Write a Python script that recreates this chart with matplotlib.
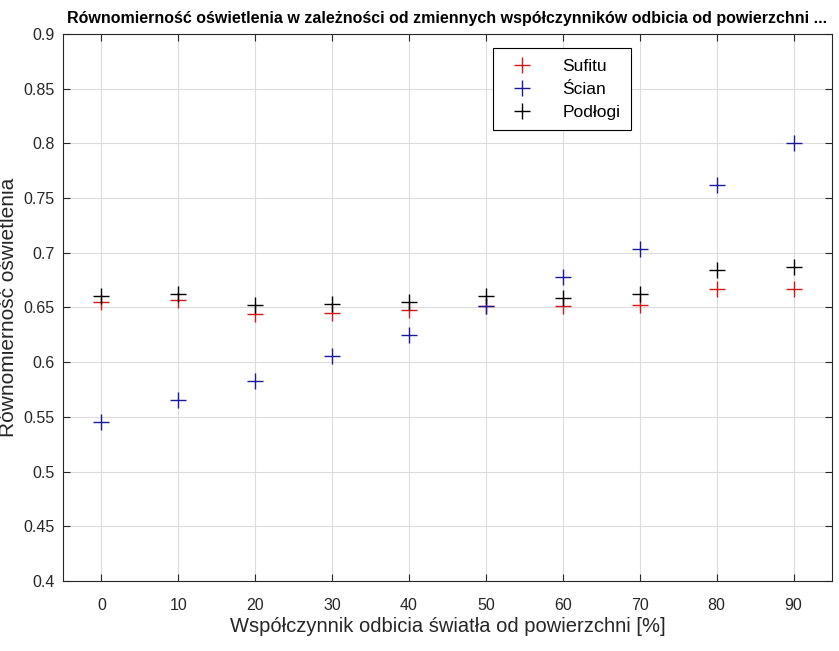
import matplotlib
matplotlib.use("Agg")
import matplotlib.pyplot as plt

plt.rcParams['font.family'] = ['Liberation Sans', 'DejaVu Sans']

# wspolczynnik odbicia [%]
x = [0, 10, 20, 30, 40, 50, 60, 70, 80, 90]
sufitu = [0.655, 0.657, 0.644, 0.645, 0.648, 0.651, 0.651, 0.652, 0.667, 0.667]
scian = [0.545, 0.565, 0.583, 0.606, 0.625, 0.651, 0.678, 0.703, 0.762, 0.800]
podlogi = [0.660, 0.662, 0.652, 0.653, 0.655, 0.660, 0.659, 0.662, 0.684, 0.687]

fig = plt.figure(figsize=(8.39, 6.51), dpi=100)
ax = fig.add_axes([0.075, 0.1075, 0.9167, 0.8405])

ax.plot(x, sufitu, '+', color='#d01818', markersize=11, mew=1.0, label='Sufitu')
ax.plot(x, scian, '+', color='#1a1a9a', markersize=11, mew=1.0, label='Ścian')
ax.plot(x, podlogi, '+', color='black', markersize=11, mew=1.0, label='Podłogi')

ax.set_xlim(-5, 95)
ax.set_ylim(0.4, 0.9)
ax.set_xticks(x)
ax.set_yticks([0.4, 0.45, 0.5, 0.55, 0.6, 0.65, 0.7, 0.75, 0.8, 0.85, 0.9])
ax.set_yticklabels(['0.4', '0.45', '0.5', '0.55', '0.6', '0.65', '0.7', '0.75', '0.8', '0.85', '0.9'])
ax.grid(True, color='#dcdcdc', linewidth=0.8)
ax.set_axisbelow(True)
ax.tick_params(direction='in', top=True, right=True, labelsize=11.5, colors='#262626', length=5, pad=6)
ax.tick_params(axis='x', pad=12)
for s in ax.spines.values():
    s.set_color('#262626')

ax.set_xlabel('Współczynnik odbicia światła od powierzchni [%]', fontsize=14.5, color='#262626', labelpad=3)
ax.set_ylabel('Równomierność oświetlenia', fontsize=15, color='#262626')
ax.yaxis.set_label_coords(-0.058, 0.5)
ax.set_title('Równomierność oświetlenia w zależności od zmiennych współczynników odbicia od powierzchni ...',
             fontsize=11.5, fontweight='bold', pad=8)

leg = ax.legend(loc='upper left', bbox_to_anchor=(0.559, 0.974), borderaxespad=0, fontsize=12.5,
                fancybox=False, edgecolor='black', framealpha=1, handletextpad=1.2, borderpad=0.6,
                labelspacing=0.45, handlelength=2.2)
leg.get_frame().set_linewidth(0.8)

fig.savefig('out.png', dpi=100)
